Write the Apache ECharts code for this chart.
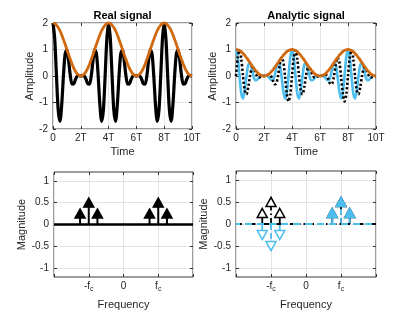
<!DOCTYPE html>
<html>
<head>
<meta charset="utf-8">
<script src="https://cdn.jsdelivr.net/npm/echarts@6/dist/echarts.min.js"></script>
<style>
html,body{margin:0;padding:0;background:#fff;}
#chart{width:415px;height:312px;}
</style>
</head>
<body>
<div id="chart"></div>
<script>
// ---------- data ----------
const timeT = [0,0.125,0.25,0.375,0.5,0.625,0.75,0.875,1,1.125,1.25,1.375,1.5,1.625,1.75,1.875,2,2.125,2.25,2.375,2.5,2.625,2.75,2.875,3,3.125,3.25,3.375,3.5,3.625,3.75,3.875,4,4.125,4.25,4.375,4.5,4.625,4.75,4.875,5,5.125,5.25,5.375,5.5,5.625,5.75,5.875,6,6.125,6.25,6.375,6.5,6.625,6.75,6.875,7,7.125,7.25,7.375,7.5,7.625,7.75,7.875,8,8.125,8.25,8.375,8.5,8.625,8.75,8.875,9,9.125,9.25,9.375,9.5,9.625,9.75,9.875,10];

const realSignal = [2,1.40,0,-1.29,-1.71,-1.10,0,0.84,1,0.57,0,-0.31,-0.29,-0.12,0,0.01,0,0.01,0,-0.12,-0.29,-0.31,0,0.57,1,0.84,0,-1.10,-1.71,-1.29,0,1.40,2,
1.40,0,-1.29,-1.71,-1.10,0,0.84,1,0.57,0,-0.31,-0.29,-0.12,0,0.01,0,0.01,0,-0.12,-0.29,-0.31,0,0.57,1,0.84,0,-1.10,-1.71,-1.29,0,1.40,2,
1.40,0,-1.29,-1.71,-1.10,0,0.84,1,0.57,0,-0.31,-0.29,-0.12,0,0.01,0];

const realEnvelope = [2,1.98,1.92,1.83,1.71,1.56,1.38,1.20,1,0.80,0.62,0.44,0.29,0.17,0.08,0.02,0,0.02,0.08,0.17,0.29,0.44,0.62,0.80,1,1.20,1.38,1.56,1.71,1.83,1.92,1.98,2,
1.98,1.92,1.83,1.71,1.56,1.38,1.20,1,0.80,0.62,0.44,0.29,0.17,0.08,0.02,0,0.02,0.08,0.17,0.29,0.44,0.62,0.80,1,1.20,1.38,1.56,1.71,1.83,1.92,1.98,2,
1.98,1.92,1.83,1.71,1.56,1.38,1.20,1,0.80,0.62,0.44,0.29,0.17,0.08,0.02,0];

const analyticReal = [1,0.70,0,-0.65,-0.85,-0.55,0,0.42,0.5,0.28,0,-0.16,-0.15,-0.06,0,0.01,0,0.01,0,-0.06,-0.15,-0.16,0,0.28,0.5,0.42,0,-0.55,-0.85,-0.65,0,0.70,1,
0.70,0,-0.65,-0.85,-0.55,0,0.42,0.5,0.28,0,-0.16,-0.15,-0.06,0,0.01,0,0.01,0,-0.06,-0.15,-0.16,0,0.28,0.5,0.42,0,-0.55,-0.85,-0.65,0,0.70,1,
0.70,0,-0.65,-0.85,-0.55,0,0.42,0.5,0.28,0,-0.16,-0.15,-0.06,0,0.01,0];

const analyticImag = [0,0.70,0.96,0.65,0,-0.55,-0.69,-0.42,0,0.28,0.31,0.16,0,-0.06,-0.04,-0.01,0,0.01,0.04,0.06,0,-0.16,-0.31,-0.28,0,0.42,0.69,0.55,0,-0.65,-0.96,-0.70,0,
0.70,0.96,0.65,0,-0.55,-0.69,-0.42,0,0.28,0.31,0.16,0,-0.06,-0.04,-0.01,0,0.01,0.04,0.06,0,-0.16,-0.31,-0.28,0,0.42,0.69,0.55,0,-0.65,-0.96,-0.70,0,
0.70,0.96,0.65,0,-0.55,-0.69,-0.42,0,0.28,0.31,0.16,0,-0.06,-0.04,-0.01,0];

const analyticEnvelope = [1,0.99,0.96,0.92,0.85,0.78,0.69,0.60,0.5,0.40,0.31,0.22,0.15,0.08,0.04,0.01,0,0.01,0.04,0.08,0.15,0.22,0.31,0.40,0.5,0.60,0.69,0.78,0.85,0.92,0.96,0.99,1,
0.99,0.96,0.92,0.85,0.78,0.69,0.60,0.5,0.40,0.31,0.22,0.15,0.08,0.04,0.01,0,0.01,0.04,0.08,0.15,0.22,0.31,0.40,0.5,0.60,0.69,0.78,0.85,0.92,0.96,0.99,1,
0.99,0.96,0.92,0.85,0.78,0.69,0.60,0.5,0.40,0.31,0.22,0.15,0.08,0.04,0.01,0];

const timeTicks = [0,2,4,6,8,10];
const timeTickLabels = ['0','2T','4T','6T','8T','10T'];

const specFreq = [-1.25,-1,-0.75,0.75,1,1.25];
const realSpecMag = [0.25,0.5,0.25,0.25,0.5,0.25];
const analyticSpecBlack = [0.25,0.5,0.25,0.25,0.5,0.25];
const analyticSpecBlue = [-0.25,-0.5,-0.25,0.25,0.5,0.25];
const freqRange = [-2,2];
const magTicks = [-1,-0.5,0,0.5,1];

// ---------- styles ----------
const TXT = '#262626';
const GRIDC = '#e3e3e3';
const ORANGE = '#d0690f';
const BLUE = '#4dbeee';
const FONT = 'Liberation Sans, Arial, sans-serif';

const grids = [
  {left:53, top:23, width:139, height:106},
  {left:236, top:23, width:140, height:106},
  {left:54, top:172, width:139, height:105},
  {left:236, top:171, width:140, height:106}
];

const xAxes = [], yAxes = [];
const tickCommon = {show:true, inside:true, length:3, lineStyle:{color:'#333', width:1}};
const noLine = {show:false, onZero:false};

for (let i=0;i<4;i++){
  const top = i<2;
  xAxes.push(top ? {
    type:'value', gridIndex:i, min:0, max:10, interval:2, position:'bottom',
    axisLine:noLine, axisTick:tickCommon,
    splitLine:{show:true, lineStyle:{color:GRIDC, width:1}},
    axisLabel:{color:TXT, fontSize:10, fontFamily:FONT, margin:4,
      formatter:v=>{const k=timeTicks.indexOf(v);return k>=0?timeTickLabels[k]:'';}},
    name:'Time', nameLocation:'middle', nameGap:17,
    nameTextStyle:{color:TXT, fontSize:11, fontFamily:FONT}
  } : {
    type:'value', gridIndex:i, min:freqRange[0], max:freqRange[1], interval:1, position:'bottom',
    axisLine:noLine, axisTick:tickCommon,
    splitLine:{show:true, lineStyle:{color:GRIDC, width:1}},
    axisLabel:{color:TXT, fontSize:10, fontFamily:FONT, margin:4,
      formatter:v=> v===-1?'{a|-f}{b|c}':(v===1?'{a|f}{b|c}':(v===0?'{a|0}':'')),
      rich:{a:{fontSize:10, color:TXT, fontFamily:FONT, verticalAlign:'top', lineHeight:12},
            b:{fontSize:7, color:TXT, fontFamily:FONT, verticalAlign:'bottom', padding:[5,0,0,0], lineHeight:12}}},
    name:'Frequency', nameLocation:'middle', nameGap:22,
    nameTextStyle:{color:TXT, fontSize:11, fontFamily:FONT}
  });
  yAxes.push(top ? {
    type:'value', gridIndex:i, min:-2, max:2, interval:1, position:'left',
    axisLine:noLine, axisTick:tickCommon,
    splitLine:{show:true, lineStyle:{color:GRIDC, width:1}},
    axisLabel:{color:TXT, fontSize:10, fontFamily:FONT, margin:5},
    name:'Amplitude', nameLocation:'middle', nameGap:8,
    nameTextStyle:{color:TXT, fontSize:11, fontFamily:FONT}
  } : {
    type:'value', gridIndex:i, min:-1.2, max:1.2, position:'left',
    axisLine:noLine,
    axisTick:Object.assign({customValues:magTicks}, tickCommon),
    splitLine:{show:true, lineStyle:{color:GRIDC, width:1}},
    axisLabel:{color:TXT, fontSize:10, fontFamily:FONT, margin:5, customValues:magTicks},
    name:'Magnitude', nameLocation:'middle', nameGap:15,
    nameTextStyle:{color:TXT, fontSize:11, fontFamily:FONT}
  });
}
// mirrored ticks on top and right edges (box style)
for (let i=0;i<4;i++){
  const top = i<2;
  xAxes.push({type:'value', gridIndex:i, position:'top',
    min: top?0:freqRange[0], max: top?10:freqRange[1], interval: top?2:1,
    axisLine:noLine, axisTick:tickCommon, axisLabel:{show:false}, splitLine:{show:false}});
  yAxes.push(top ? {type:'value', gridIndex:i, position:'right', min:-2, max:2, interval:1,
    axisLine:noLine, axisTick:tickCommon, axisLabel:{show:false}, splitLine:{show:false}}
   : {type:'value', gridIndex:i, position:'right', min:-1.2, max:1.2,
    axisLine:noLine, axisTick:Object.assign({customValues:magTicks}, tickCommon),
    axisLabel:{show:false, customValues:magTicks}, splitLine:{show:false}});
}

function pairs(xs, ys){ return xs.map((x,k)=>[x, ys[k]]); }

function lineSeries(g, xs, ys, color, width, type, z){
  return {type:'line', xAxisIndex:g, yAxisIndex:g, data:pairs(xs, ys), showSymbol:false, symbol:'none',
    smooth:0.3, silent:true, z:z||2,
    lineStyle:{color:color, width:width, type:type||'solid', cap:'butt', join:'round'}};
}

function stemCustom(g, xs, ys, color, width, dash){
  return {type:'custom', xAxisIndex:g, yAxisIndex:g, data:pairs(xs, ys),
    renderItem:(p, api)=>{
      const a = api.coord([api.value(0), 0]);
      const b = api.coord([api.value(0), api.value(1)]);
      return {type:'line', shape:{x1:a[0], y1:a[1], x2:b[0], y2:b[1]},
        style:{stroke:color, lineWidth:width, lineDash:dash}};
    }};
}
function stemMarkers(g, xs, ys, color, fillFn){
  return {type:'scatter', xAxisIndex:g, yAxisIndex:g, silent:true,
    symbol:'triangle', symbolSize:[10,9],
    data: xs.map((x,k)=>({value:[x, ys[k]], symbolRotate: ys[k]<0?180:0,
      itemStyle:{color:fillFn(ys[k]), borderColor:color, borderWidth:1.5, opacity:1}}))};
}

const series = [];
series.push(lineSeries(0, timeT, realSignal, '#000', 3.2, 'solid', 2));
series.push(lineSeries(0, timeT, realEnvelope, ORANGE, 2.8, 'solid', 3));
series.push(lineSeries(1, timeT, analyticReal, BLUE, 2.6, 'solid', 2));
series.push(lineSeries(1, timeT, analyticImag, '#000', 2.6, [2.2,2.2], 3));
series.push(lineSeries(1, timeT, analyticEnvelope, ORANGE, 2.8, 'solid', 4));
series.push({type:'line', xAxisIndex:2, yAxisIndex:2, silent:true, symbol:'none',
  data:[[freqRange[0],0],[freqRange[1],0]], lineStyle:{color:'#000', width:2.6}});
series.push(stemCustom(2, specFreq, realSpecMag, '#000', 2, null));
series.push(stemMarkers(2, specFreq, realSpecMag, '#000', ()=>'#000'));
series.push({type:'line', xAxisIndex:3, yAxisIndex:3, silent:true, symbol:'none',
  data:[[freqRange[0],0],[freqRange[1],0]], lineStyle:{color:'#000', width:2, type:[6,3,1.5,3]}});
series.push({type:'line', xAxisIndex:3, yAxisIndex:3, silent:true, symbol:'none',
  data:[[freqRange[0],0],[freqRange[1],0]], lineStyle:{color:BLUE, width:2, type:[7,5], dashOffset:3}});
series.push(stemCustom(3, specFreq, analyticSpecBlack, '#000', 1.8, [6,3,1.5,3]));
series.push(stemMarkers(3, specFreq, analyticSpecBlack, '#000', ()=>'#fff'));
series.push(stemCustom(3, specFreq, analyticSpecBlue, BLUE, 1.8, [6,3]));
series.push(stemMarkers(3, specFreq, analyticSpecBlue, BLUE, v=> v>0 ? BLUE : '#fff'));

const option = {
  animation:false,
  backgroundColor:'#fff',
  grid: grids.map(g=>Object.assign({show:true, borderColor:'#3a3a3a', borderWidth:1}, g)),
  xAxis: xAxes,
  yAxis: yAxes,
  graphic:[
    {type:'text', x:122.5, y:16, style:{text:'Real signal', fill:'#000', font:'bold 11px Liberation Sans, Arial, sans-serif', textAlign:'center', textVerticalAlign:'middle'}},
    {type:'text', x:306, y:16, style:{text:'Analytic signal', fill:'#000', font:'bold 11px Liberation Sans, Arial, sans-serif', textAlign:'center', textVerticalAlign:'middle'}}
  ],
  series: series
};

const chart = echarts.init(document.getElementById('chart'), null, {renderer:'canvas'});
chart.setOption(option);
</script>
</body>
</html>
